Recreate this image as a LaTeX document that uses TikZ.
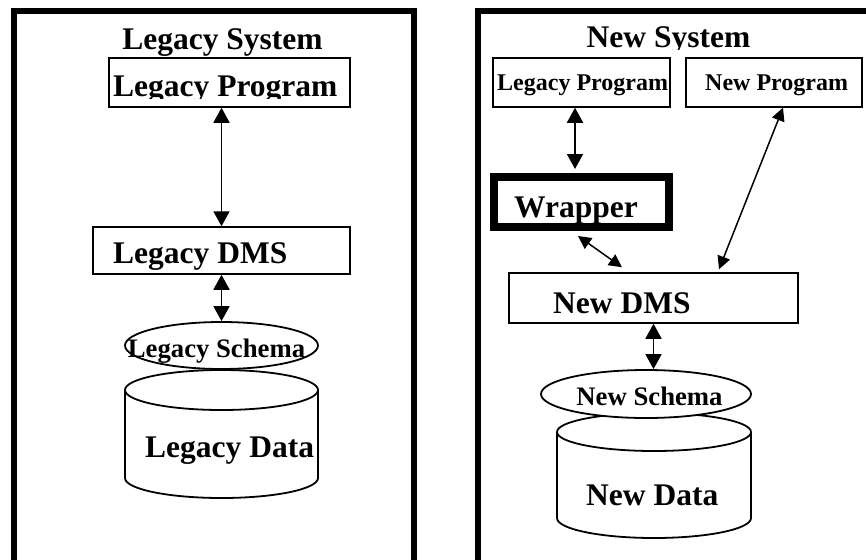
\documentclass[tikz,border=0pt]{standalone}
\usepackage{fontspec}
\setmainfont{Liberation Serif}
\usetikzlibrary{arrows.meta}
\usetikzlibrary{shapes.geometric}
\tikzset{
  big/.style={font=\fontsize{31.5}{36}\selectfont\bfseries, inner sep=0pt},
  mid/.style={font=\fontsize{26.7}{30}\selectfont\bfseries, inner sep=0pt},
  small/.style={font=\fontsize{24}{28}\selectfont\bfseries, inner sep=0pt},
  box/.style={draw, line width=1.5pt, rectangle, inner sep=0pt},
  wrapbox/.style={draw, line width=8pt, rectangle, inner sep=0pt},
  oval/.style={draw, line width=1.8pt, ellipse, inner sep=0pt, fill=white},
  frame/.style={line width=6pt, line join=miter},
  dbl/.style={line width=1.8pt, {Triangle[length=15pt,width=16pt]}-{Triangle[length=15pt,width=16pt]}},
  dblsm/.style={line width=1.5pt, {Triangle[length=13pt,width=13pt]}-{Triangle[length=13pt,width=13pt]}},
  drum/.style={line width=1.8pt},
}
\begin{document}
\begin{tikzpicture}[x=1pt, y=1pt]
\useasboundingbox (0,0) rectangle (866,-559);
\clip (0,0) rectangle (866,-559);
\fill[white] (0,0) rectangle (866,-559);

% ---------- left panel: legacy system ----------
\draw[frame] (14,-600) -- (14,-11) -- (414,-11) -- (414,-600);
\node[big, anchor=base] (lstitle) at (222.5,-50) {Legacy System};

\node[box, minimum width=241pt, minimum height=49pt] (lp) at (229.5,-82.5) {};
\begin{scope}
  \clip (109,-58) rectangle (350,-98.5);
  \node[big, anchor=base west] (lptxt) at (113,-97) {Legacy Program};
\end{scope}

\node[box, minimum width=257pt, minimum height=47pt] (ldms) at (221.5,-250.5) {};
\node[big, anchor=base west] (ldmstxt) at (113,-263) {Legacy DMS};

% legacy data drum
\draw[drum] (125,-390) -- (125,-478)
  arc[start angle=180, end angle=360, x radius=96.5pt, y radius=20pt]
  -- (318,-390);
\draw[drum] (221.5,-390) ellipse [x radius=96.5pt, y radius=20pt];
\node[big, anchor=base west] (ldata) at (145,-457) {Legacy Data};

\node[oval, minimum width=193pt, minimum height=47pt] (lsch) at (221.5,-345.5) {};
\node[mid, anchor=base] (lschtxt) at (216.5,-357) {Legacy Schema};

\draw[dbl] (ldms.north |- lp.south) -- (ldms.north);
\draw[dbl] (ldms.south) -- (lsch.north);

% ---------- right panel: new system ----------
\draw[frame] (478,-600) -- (478,-11) -- (880,-11);
\begin{scope}
  \clip (480,-14) rectangle (866,-49.5);
  \node[big, anchor=base] (nstitle) at (668.5,-48) {New System};
\end{scope}

\node[box, minimum width=177pt, minimum height=49pt] (rlp) at (581.5,-82.5) {};
\node[small, anchor=base west] (rlptxt) at (497,-91) {Legacy Program};

\node[box, minimum width=176pt, minimum height=49pt] (np) at (774,-82.5) {};
\node[small, anchor=base west] (nptxt) at (705,-91) {New Program};

\node[big, anchor=base west] (wrtxt) at (514,-217) {Wrapper};
\node[wrapbox, minimum width=175pt, minimum height=50pt] (wr) at (581.5,-202) {};

\node[box, minimum width=289pt, minimum height=50pt] (nd) at (653.5,-298) {};
\node[big, anchor=base west] (ndtxt) at (553,-313) {New DMS};

% new data drum
\draw[drum] (557,-432) -- (557,-518)
  arc[start angle=180, end angle=360, x radius=97pt, y radius=20pt]
  -- (751,-432);
\draw[drum] (654,-432) ellipse [x radius=97pt, y radius=19pt];
\node[big, anchor=base west] (ndata) at (586,-505) {New Data};

\node[oval, minimum width=210pt, minimum height=48pt] (nsch) at (646,-394) {};
\node[mid, anchor=base] (nschtxt) at (649.5,-405) {New Schema};

\draw[dbl] ([xshift=-6.5pt]rlp.south) -- ([xshift=-6.5pt, yshift=4pt]wr.north);
\draw[dblsm] ([shift={(-3.5pt,-5pt)}]wr.south) -- ([shift={(-31.5pt,5pt)}]nd.north);
\draw[dblsm] ([xshift=9pt]np.south) -- ([shift={(65.5pt,3pt)}]nd.north);
\draw[dbl] (nd.south) -- (nd.south |- nsch.north);
\end{tikzpicture}
\end{document}
